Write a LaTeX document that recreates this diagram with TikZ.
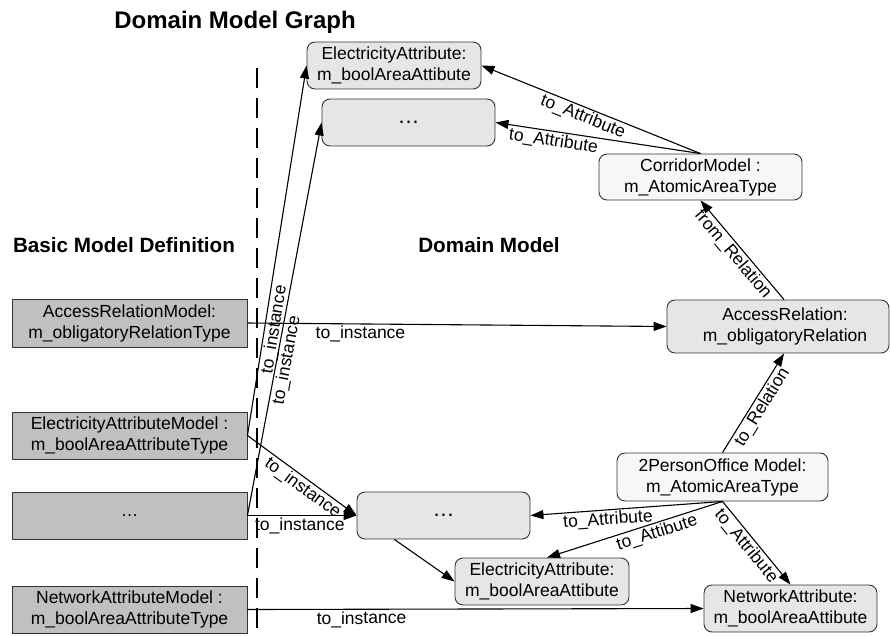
\documentclass[tikz,border=0pt]{standalone}
\usepackage{fontspec}
\setmainfont{Liberation Sans}
\usetikzlibrary{arrows.meta,calc}
\definecolor{basicgray}{HTML}{C0C0C0}
\definecolor{domgray}{HTML}{E6E6E6}
\definecolor{litegray}{HTML}{F7F7F7}
\begin{document}
\begin{tikzpicture}[x=1pt,y=-1pt,
 every node/.style={font=\fontsize{17.5}{21}\selectfont},
 basicbox/.style={draw=black!80, line width=0.9pt, fill=basicgray, minimum width=235pt, minimum height=47pt, inner sep=0pt, align=center},
 dombox/.style={draw=black!80, line width=0.9pt, fill=domgray, rounded corners=8pt, minimum height=47pt, inner sep=0pt, align=center},
 litebox/.style={dombox, fill=litegray},
 dotsbox/.style={dombox, font=\fontsize{22}{26}\selectfont},
 conn/.style={line width=1.1pt, -{Triangle[length=13pt,width=9pt]}},
 lbl/.style={inner sep=1.5pt, sloped, below},
 ttl/.style={font=\fontsize{20.7}{24}\selectfont\bfseries},
 dashline/.style={line width=2pt, dash pattern=on 20pt off 10pt}
]
\useasboundingbox (0,0) rectangle (891,635);

% titles
\node[font=\fontsize{24}{28}\selectfont\bfseries] (title) at (235,22) {Domain Model Graph};
\node[ttl] (basicT) at (124,245) {Basic Model Definition};
\node[ttl] (domT) at (489,245) {Domain Model};

% dashed separator
\coordinate (dT) at (257,68);
\coordinate (dB) at (257,635);
\draw[dashline] (dT) -- (dB);

% basic model boxes
\node[basicbox, minimum height=48pt] (arm) at (129.5,323) {AccessRelationModel:\\m\_obligatoryRelationType};
\node[basicbox] (eam) at (129.5,435.5) {ElectricityAttributeModel :\\m\_boolAreaAttributeType};
\node[basicbox] (dotsB) at (129.5,515.5) {\ldots};
\node[basicbox] (nam) at (129.5,609.5) {NetworkAttributeModel :\\m\_boolAreaAttributeType};

% domain model nodes
\node[dombox, minimum width=174pt] (eaTop) at (394,65.5) {ElectricityAttribute:\\m\_boolAreaAttibute};
\node[dotsbox, minimum width=173pt] (dotsTop) at (408.5,122.5) {\ldots};
\node[litebox, minimum width=203pt, minimum height=46pt] (corr) at (700.5,177) {CorridorModel :\\m\_AtomicAreaType};
\node[dombox, minimum width=222pt, minimum height=53pt] (accRel) at (778,326.5) {\hspace*{14pt}AccessRelation:\\\hspace*{14pt}m\_obligatoryRelation};
\node[litebox, minimum width=211pt, minimum height=48pt] (person) at (722.5,477) {2PersonOffice Model:\\m\_AtomicAreaType};
\node[dotsbox, minimum width=173pt] (dotsMid) at (443.5,515.5) {\ldots};
\node[dombox, minimum width=174pt] (eaBot) at (542,581.5) {ElectricityAttribute:\\m\_boolAreaAttibute};
\node[dombox, minimum width=173pt] (netAttr) at (790.5,608.5) {NetworkAttribute:\\m\_boolAreaAttibute};

% instance connectors
\draw[conn] (arm.east) -- node[lbl, pos=0.27] {to\_instance} (accRel.west);
\draw[conn] (nam.east) -- node[lbl, pos=0.25] {to\_instance} (netAttr.west);
\draw[conn] (dotsB.east) -- node[lbl, pos=0.48] {to\_instance} (dotsMid.west);
\draw[conn] (eam.east) -- node[lbl, pos=0.56] {to\_instance} (dotsMid.west);
\draw[conn] (eam.east) -- node[lbl, pos=0.29] {to\_instance} (eaTop.west);
\draw[conn] (dotsB.east) -- node[lbl, pos=0.40] {to\_instance} (dotsTop.west);
\draw[conn] (dotsMid.206) -- (eaBot.west);

% domain relations
\draw[conn] (corr.north) -- node[lbl, pos=0.52] {to\_Attribute} (eaTop.east);
\draw[conn] (corr.north) -- node[lbl, pos=0.71] {to\_Attribute} (dotsTop.east);
\draw[conn] ([xshift=6pt]accRel.north) -- node[lbl, pos=0.52] {from\_Relation} (corr.south);
\draw[conn] (person.north) -- node[lbl, pos=0.51] {to\_Relation} ([xshift=6pt]accRel.south);
\draw[conn] (person.south) -- node[lbl, pos=0.6] {to\_Attribute} (dotsMid.east);
\draw[conn] (person.south) -- node[lbl, pos=0.39] {to\_Attibute} ([xshift=5pt]eaBot.north);
\draw[conn] (person.south) -- node[lbl, pos=0.46] {to\_Attribute} (netAttr.north);
\end{tikzpicture}
\end{document}
